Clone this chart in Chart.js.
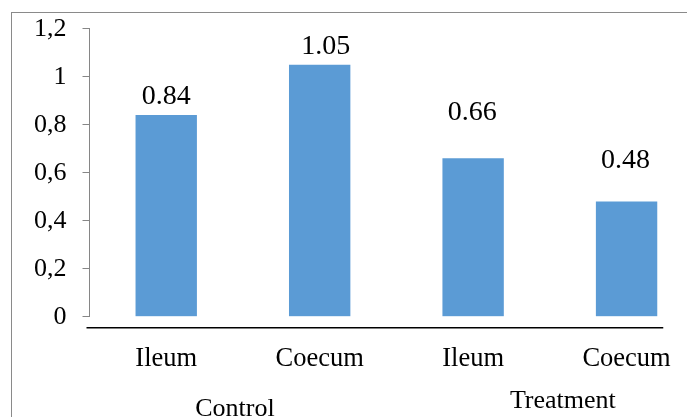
<!DOCTYPE html>
<html>
<head>
<meta charset="utf-8">
<script src="https://cdn.jsdelivr.net/npm/chart.js@4"></script>
<style>
  html, body { margin: 0; padding: 0; overflow: hidden; background: #fff; }
  #frame { position: absolute; left: 11px; top: 12px; width: 800px; height: 500px; border: 1.5px solid #8a8a8a; }
  #wrap { position: absolute; left: 0; top: 0; width: 720px; height: 417px; }
  #warm { position: absolute; left: -999px; top: 0; font-family: "Liberation Serif"; font-size: 25px; }
</style>
</head>
<body>
<div id="warm">Control Treatment 0,8 1.05</div>
<div id="frame"></div>
<div id="wrap"><canvas id="chart"></canvas></div>
<script>
// data
const categories = ['Ileum', 'Coecum', 'Ileum', 'Coecum'];
const values = [0.84, 1.05, 0.66, 0.48];
const groups = ['Control', 'Treatment'];
const groupSpans = [[0, 1], [2, 3]];
const yTicks = [0, 0.2, 0.4, 0.6, 0.8, 1, 1.2];

const serif = "'Liberation Serif', 'Times New Roman', serif";

// value labels sit at different heights above each bar
const labelGap = [11, 11, 38, 34];
const labelShift = [0, 6, -1, -1];
// group labels (Control / Treatment) offsets
const groupShift = [[-8, 99], [13, 91.5]];

const extras = {
  id: 'extras',
  afterDraw(chart) {
    const ctx = chart.ctx;
    const x = chart.scales.x;
    const meta = chart.getDatasetMeta(0);
    ctx.save();

    // black category axis line under the zero line
    const lastBar = meta.data[meta.data.length - 1];
    ctx.strokeStyle = '#000';
    ctx.lineWidth = 1.5;
    ctx.beginPath();
    ctx.moveTo(chart.chartArea.left - 3, chart.chartArea.bottom + 11);
    ctx.lineTo(lastBar.x + lastBar.width / 2 + 6, chart.chartArea.bottom + 11);
    ctx.stroke();

    // value labels
    ctx.fillStyle = '#000';
    ctx.font = '28px ' + serif;
    ctx.textAlign = 'center';
    ctx.textBaseline = 'alphabetic';
    meta.data.forEach((bar, i) => {
      ctx.fillText(values[i].toFixed(2), bar.x + labelShift[i], bar.y - labelGap[i]);
    });

    // group labels
    ctx.font = '26px ' + serif;
    groups.forEach((g, i) => {
      const [a, b] = groupSpans[i];
      const cx = (x.getPixelForValue(a) + x.getPixelForValue(b)) / 2;
      ctx.fillText(g, cx + groupShift[i][0], x.top + groupShift[i][1]);
    });
    ctx.restore();
  }
};

function draw() {
  new Chart(document.getElementById('chart'), {
    type: 'bar',
    data: {
      labels: categories,
      datasets: [{
        data: values,
        backgroundColor: '#5b9bd5',
        borderWidth: 0,
        categoryPercentage: 1,
        barPercentage: 0.4
      }]
    },
    options: {
      responsive: true,
      maintainAspectRatio: false,
      animation: false,
      layout: { padding: { top: 28.7, right: 16.7, left: 0, bottom: 0 } },
      plugins: { legend: { display: false }, tooltip: { enabled: false } },
      scales: {
        x: {
          grid: { display: false, drawTicks: false },
          border: { display: false },
          ticks: { color: '#000', font: { family: serif, size: 26.5 }, padding: 26.6, maxRotation: 0 },
          afterFit(axis) { axis.height = 100.3; axis.paddingLeft = 0; axis.paddingRight = 0; }
        },
        y: {
          min: 0,
          max: 1.2,
          afterBuildTicks(axis) { axis.ticks = yTicks.map(v => ({ value: v })); },
          grid: { drawOnChartArea: false, drawTicks: true, tickLength: 7, color: '#868686', lineWidth: 1 },
          border: { color: '#868686', width: 1 },
          ticks: {
            color: '#000',
            font: { family: serif, size: 26 },
            padding: 16,
            callback: v => String(Number(v.toFixed(1))).replace('.', ',')
          },
          afterFit(axis) { axis.width = 89.5; axis.paddingTop = 0; axis.paddingBottom = 0; }
        }
      }
    },
    plugins: [extras]
  });
}

Promise.all([
  document.fonts.load("25px 'Liberation Serif'"),
  document.fonts.load("23px 'Liberation Serif'"),
  document.fonts.load("26px 'Liberation Serif'")
]).then(draw, draw);
</script>
</body>
</html>
